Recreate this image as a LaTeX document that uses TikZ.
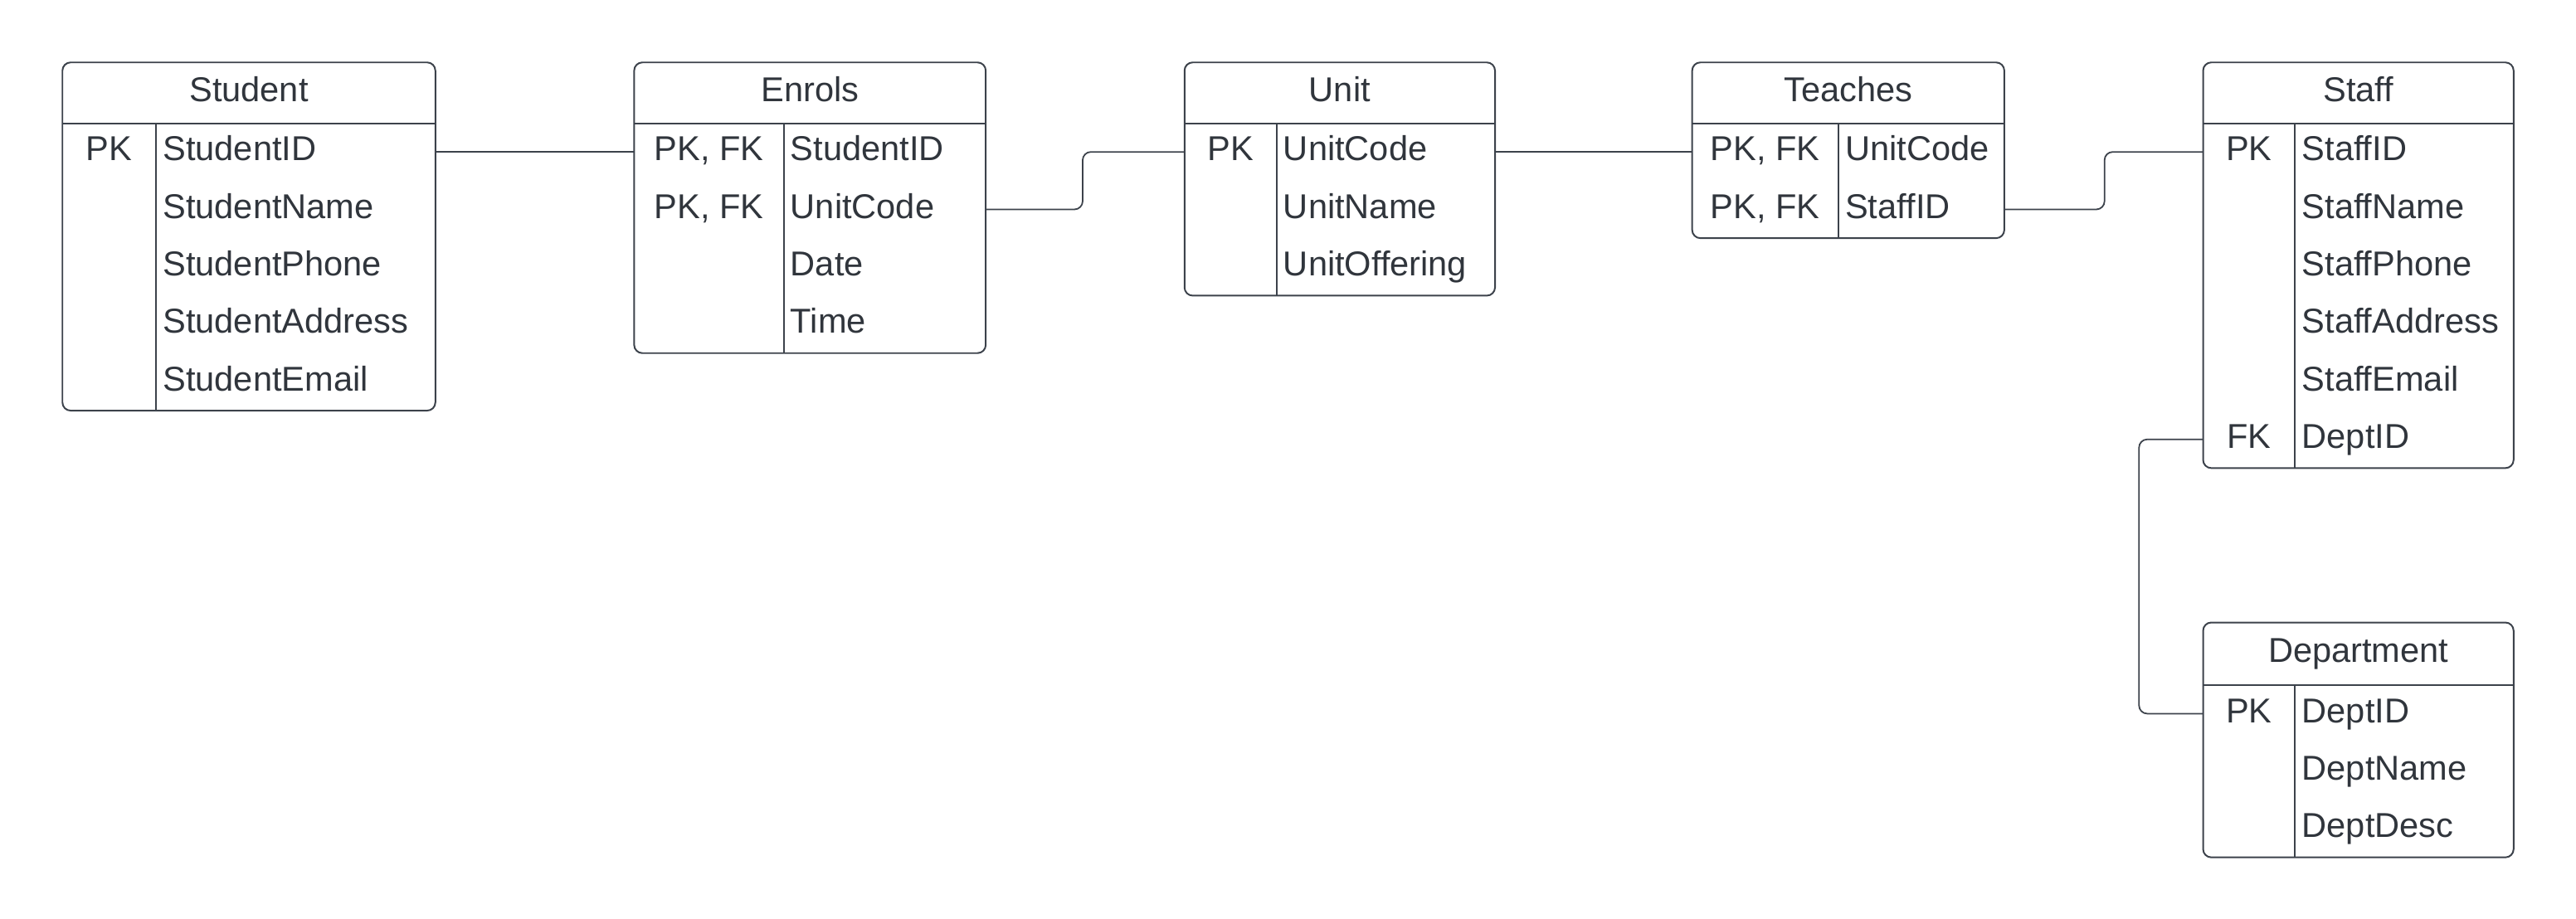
\documentclass[tikz,border=0pt]{standalone}
\usepackage{fontspec}
\setmainfont{Liberation Sans}

\definecolor{linegray}{HTML}{3C424B}
\definecolor{textgray}{HTML}{30353C}

\tikzset{
  tbl/.style={draw=linegray, line width=1pt, rounded corners=5pt, anchor=north west, inner sep=0pt, outer sep=0pt},
  sep/.style={draw=linegray, line width=1pt},
  txt/.style={text=textgray, font=\fontsize{21}{25}\selectfont, text height=15.1pt, text depth=4.4pt, inner sep=0pt},
  hdtxt/.style={txt},
  keytxt/.style={txt},
  fldtxt/.style={txt, anchor=west},
  link/.style={draw=linegray, line width=0.9pt, rounded corners=5pt}
}

\begin{document}
\begin{tikzpicture}[x=1pt,y=-1pt]
\useasboundingbox (0,0) rectangle (1568,559.5);

\begin{scope}[xshift=38pt, yshift=-38pt]
    \node[tbl, minimum width=227pt, minimum height=212pt] (student) at (0,0) {};
    \draw[sep] (0,37) -- (227,37);
    \draw[sep] (57,37) -- (57,212);
    \node[hdtxt] (studenthd) at (113.5,18.5) {Student};
    \node[keytxt] (stupk) at (28.5,54.5) {PK};
    \node[fldtxt] (stu1) at (61,54.5) {StudentID};
    \node[fldtxt] (stu2) at (61,89.5) {StudentName};
    \node[fldtxt] (stu3) at (61,124.5) {StudentPhone};
    \node[fldtxt] (stu4) at (61,159.5) {StudentAddress};
    \node[fldtxt] (stu5) at (61,194.5) {StudentEmail};
\end{scope}

\begin{scope}[xshift=386pt, yshift=-38pt]
    \node[tbl, minimum width=214pt, minimum height=177pt] (enrols) at (0,0) {};
    \draw[sep] (0,37) -- (214,37);
    \draw[sep] (91,37) -- (91,177);
    \node[hdtxt] (enrolshd) at (107,18.5) {Enrols};
    \node[keytxt] (enpk1) at (45.5,54.5) {PK, FK};
    \node[keytxt] (enpk2) at (45.5,89.5) {PK, FK};
    \node[fldtxt] (en1) at (95,54.5) {StudentID};
    \node[fldtxt] (en2) at (95,89.5) {UnitCode};
    \node[fldtxt] (en3) at (95,124.5) {Date};
    \node[fldtxt] (en4) at (95,159.5) {Time};
\end{scope}

\begin{scope}[xshift=721pt, yshift=-38pt]
    \node[tbl, minimum width=189pt, minimum height=142pt] (unit) at (0,0) {};
    \draw[sep] (0,37) -- (189,37);
    \draw[sep] (56,37) -- (56,142);
    \node[hdtxt] (unithd) at (94.5,18.5) {Unit};
    \node[keytxt] (unpk) at (28,54.5) {PK};
    \node[fldtxt] (un1) at (60,54.5) {UnitCode};
    \node[fldtxt] (un2) at (60,89.5) {UnitName};
    \node[fldtxt] (un3) at (60,124.5) {UnitOffering};
\end{scope}

\begin{scope}[xshift=1030pt, yshift=-38pt]
    \node[tbl, minimum width=190pt, minimum height=107pt] (teaches) at (0,0) {};
    \draw[sep] (0,37) -- (190,37);
    \draw[sep] (89,37) -- (89,107);
    \node[hdtxt] (teacheshd) at (95,18.5) {Teaches};
    \node[keytxt] (tepk1) at (44.5,54.5) {PK, FK};
    \node[keytxt] (tepk2) at (44.5,89.5) {PK, FK};
    \node[fldtxt] (te1) at (93,54.5) {UnitCode};
    \node[fldtxt] (te2) at (93,89.5) {StaffID};
\end{scope}

\begin{scope}[xshift=1341pt, yshift=-38pt]
    \node[tbl, minimum width=189pt, minimum height=247pt] (staff) at (0,0) {};
    \draw[sep] (0,37) -- (189,37);
    \draw[sep] (56,37) -- (56,247);
    \node[hdtxt] (staffhd) at (94.5,18.5) {Staff};
    \node[keytxt] (sfpk) at (28,54.5) {PK};
    \node[keytxt] (sffk) at (28,229.5) {FK};
    \node[fldtxt] (sf1) at (60,54.5) {StaffID};
    \node[fldtxt] (sf2) at (60,89.5) {StaffName};
    \node[fldtxt] (sf3) at (60,124.5) {StaffPhone};
    \node[fldtxt] (sf4) at (60,159.5) {StaffAddress};
    \node[fldtxt] (sf5) at (60,194.5) {StaffEmail};
    \node[fldtxt] (sf6) at (60,229.5) {DeptID};
\end{scope}

\begin{scope}[xshift=1341pt, yshift=-379pt]
    \node[tbl, minimum width=189pt, minimum height=143pt] (dept) at (0,0) {};
    \draw[sep] (0,38) -- (189,38);
    \draw[sep] (56,38) -- (56,143);
    \node[hdtxt] (depthd) at (94.5,19) {Department};
    \node[keytxt] (dppk) at (28,55.5) {PK};
    \node[fldtxt] (dp1) at (60,55.5) {DeptID};
    \node[fldtxt] (dp2) at (60,90.5) {DeptName};
    \node[fldtxt] (dp3) at (60,125.5) {DeptDesc};
\end{scope}

% relationships
\draw[link] (student.east |- stu1) -- (enrols.west |- en1);
\draw[link] (enrols.east |- en2) -- ++(59,0) |- (unit.west |- un1);
\draw[link] (unit.east |- un1) -- (teaches.west |- te1);
\draw[link] (teaches.east |- te2) -- ++(61,0) |- (staff.west |- sf1);
\draw[link] (staff.west |- sf6) -- ++(-39,0) |- (dept.west |- dp1);

\end{tikzpicture}
\end{document}
